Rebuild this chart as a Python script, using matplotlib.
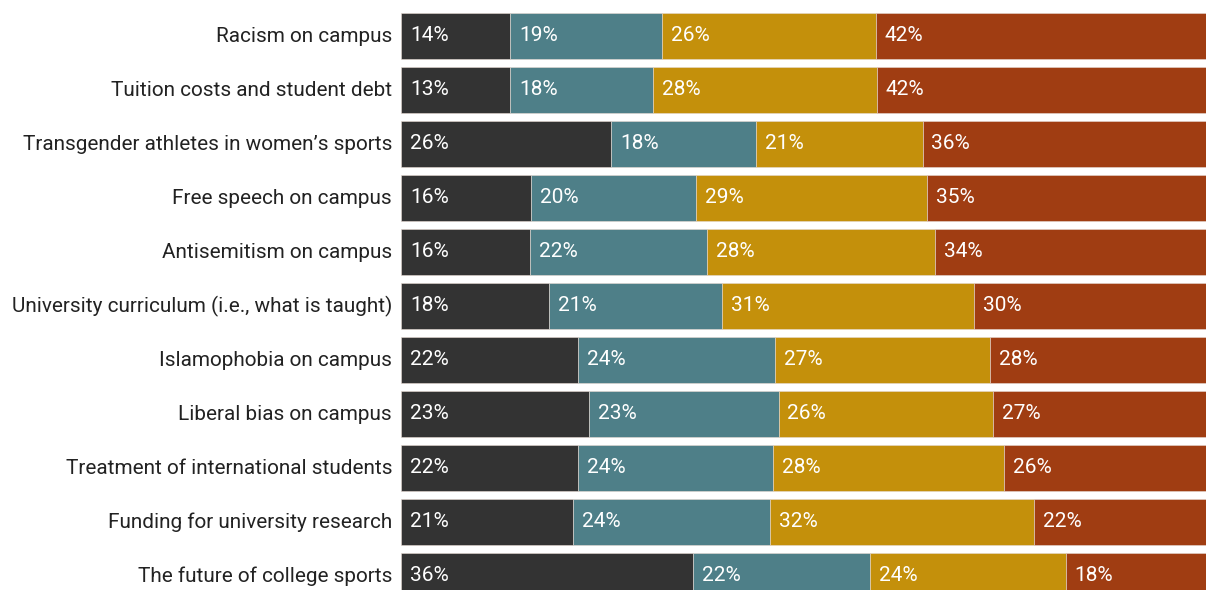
import numpy as np
import matplotlib.pyplot as plt
from matplotlib.transforms import offset_copy

plt.rcParams['font.family'] = ['Roboto', 'DejaVu Sans']

categories = [
    'Racism on campus',
    'Tuition costs and student debt',
    'Transgender athletes in women\u2019s sports',
    'Free speech on campus',
    'Antisemitism on campus',
    'University curriculum (i.e., what is taught)',
    'Islamophobia on campus',
    'Liberal bias on campus',
    'Treatment of international students',
    'Funding for university research',
    'The future of college sports',
]
# printed percentages
lab1 = [14, 13, 26, 16, 16, 18, 22, 23, 22, 21, 36]
lab2 = [19, 18, 18, 20, 22, 21, 24, 23, 24, 24, 22]
lab3 = [26, 28, 21, 29, 28, 31, 27, 26, 28, 32, 24]
lab4 = [42, 42, 36, 35, 34, 30, 28, 27, 26, 22, 18]
# segment lengths as drawn (share of the visible bar)
seg1 = [13.6, 13.6, 26.1, 16.2, 16.0, 18.4, 22.0, 23.4, 22.0, 21.4, 36.3]
seg2 = [18.8, 17.7, 18.0, 20.5, 22.0, 21.5, 24.5, 23.5, 24.2, 24.4, 22.0]
seg3 = [26.6, 27.8, 20.7, 28.7, 28.3, 31.3, 26.7, 26.7, 28.7, 32.8, 24.3]
seg4 = [42, 42, 36, 35, 34, 30, 28, 27, 26, 22, 18]
colors = ['#333333', '#4e7f88', '#c4900b', '#a03d12']

W, H = 1206, 590
fig = plt.figure(figsize=(W / 100, H / 100), dpi=100)
ax = fig.add_axes([401 / W, 0, 1 - 401 / W, 1])

segs = np.array([seg1, seg2, seg3, seg4], dtype=float)
labs = [lab1, lab2, lab3, lab4]
y = np.arange(len(categories))
left = np.zeros(len(categories))
for k in range(4):
    ax.barh(y, segs[k], left=left, height=0.87, color=colors[k],
            edgecolor='#e6d9d2', linewidth=0.4)
    for i in range(len(categories)):
        ax.text(left[i] + 1.1, y[i] - 0.005, f'{labs[k][i]}%', color='white',
                fontsize=15, va='center', ha='left')
    left += segs[k]

ax.set_xlim(0, 100)
ax.set_ylim((590 - 36) / 54, -36 / 54)

# category names, right-aligned just left of the bars
trans = offset_copy(ax.get_yaxis_transform(), fig=fig, x=-9, y=0, units='dots')
for i, name in enumerate(categories):
    ax.text(0, y[i], name, transform=trans, ha='right', va='center',
            fontsize=14.92, color='#222222')

ax.set_yticks([])
ax.set_xticks([])
for s in ax.spines.values():
    s.set_visible(False)

fig.savefig('out.png', dpi=100)
